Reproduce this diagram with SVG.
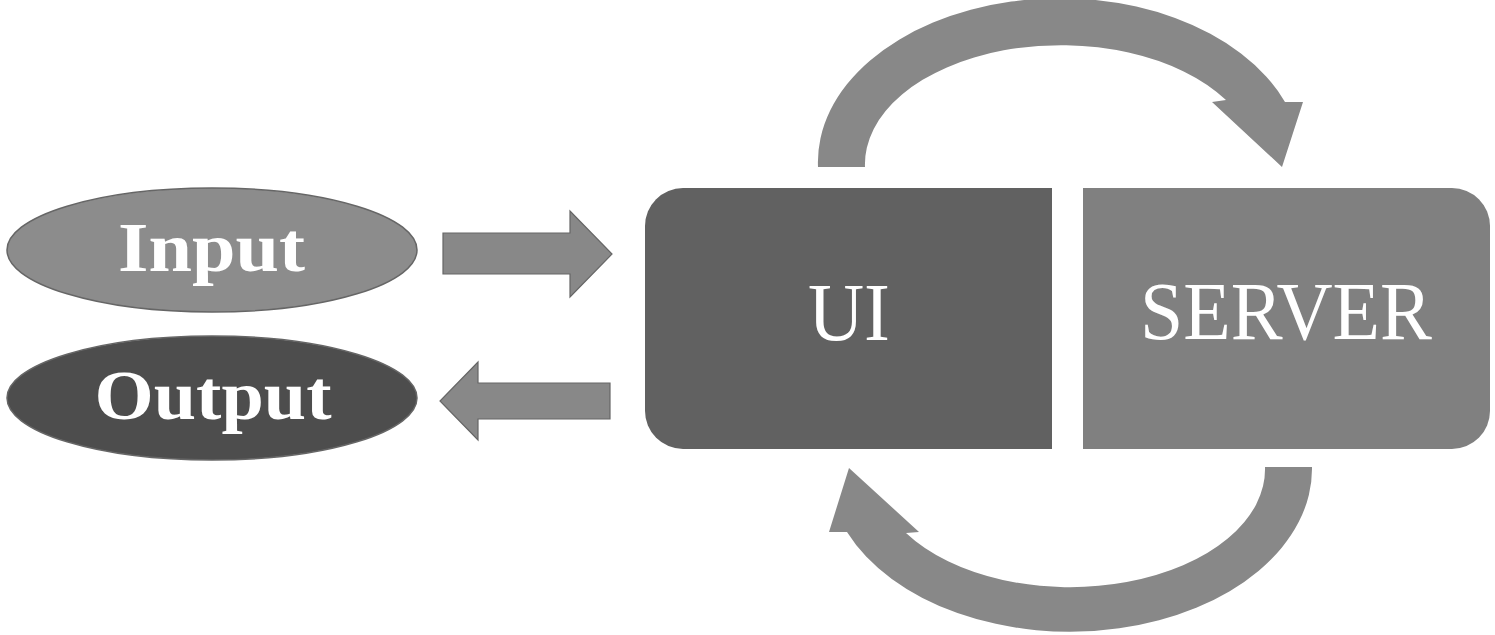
<svg xmlns="http://www.w3.org/2000/svg" width="1495" height="635" viewBox="0 0 1495 635">
<style>
.lbl{font-family:"Liberation Serif","DejaVu Serif",serif;fill:#fff;text-anchor:middle}
.b{font-weight:bold}
.arr{fill:#888;stroke:#666;stroke-width:1.2}
.carr{fill:#888}
</style>
<rect width="1495" height="635" fill="#fff"/>
<g id="input">
<ellipse cx="212" cy="250" rx="205" ry="62" fill="#8c8c8c" stroke="#666" stroke-width="1.5"/>
<text class="lbl b" x="211.5" y="271" font-size="70" textLength="187" lengthAdjust="spacingAndGlyphs">Input</text>
</g>
<g id="output">
<ellipse cx="212" cy="398" rx="205" ry="62" fill="#4d4d4d" stroke="#666" stroke-width="1.5"/>
<text class="lbl b" x="213" y="419" font-size="69" textLength="237" lengthAdjust="spacingAndGlyphs">Output</text>
</g>
<g id="ui">
<path d="M683 188 H1052 V449 H683 A38 38 0 0 1 645 411 V226 A38 38 0 0 1 683 188 Z" fill="#616161"/>
<text class="lbl" x="849" y="340" font-size="82" textLength="82" lengthAdjust="spacingAndGlyphs">UI</text>
</g>
<g id="server">
<path d="M1083 188 H1452 A38 38 0 0 1 1490 226 V411 A38 38 0 0 1 1452 449 H1083 Z" fill="#808080"/>
<text class="lbl" x="1286" y="339" font-size="82" textLength="292" lengthAdjust="spacingAndGlyphs">SERVER</text>
</g>
<g id="connectors">
<path class="arr" d="M443 233 H570 V211 L612 254 L570 297 V274 H443 Z"/>
<path class="arr" d="M610 383 H478 V362 L440 401 L478 440 V419 H610 Z"/>
<path class="carr" d="M818 167 A242 164 0 0 1 1285 102 L1303 102 L1282 167 L1212 102 L1226 100 A196 119 0 0 0 865 167 Z"/>
<path class="carr" d="M1312 467 A242 163 0 0 1 847 532 L829 532 L849 468 L919 532 L906 533 A195 118 0 0 0 1265 467 Z"/>
</g>
</svg>
